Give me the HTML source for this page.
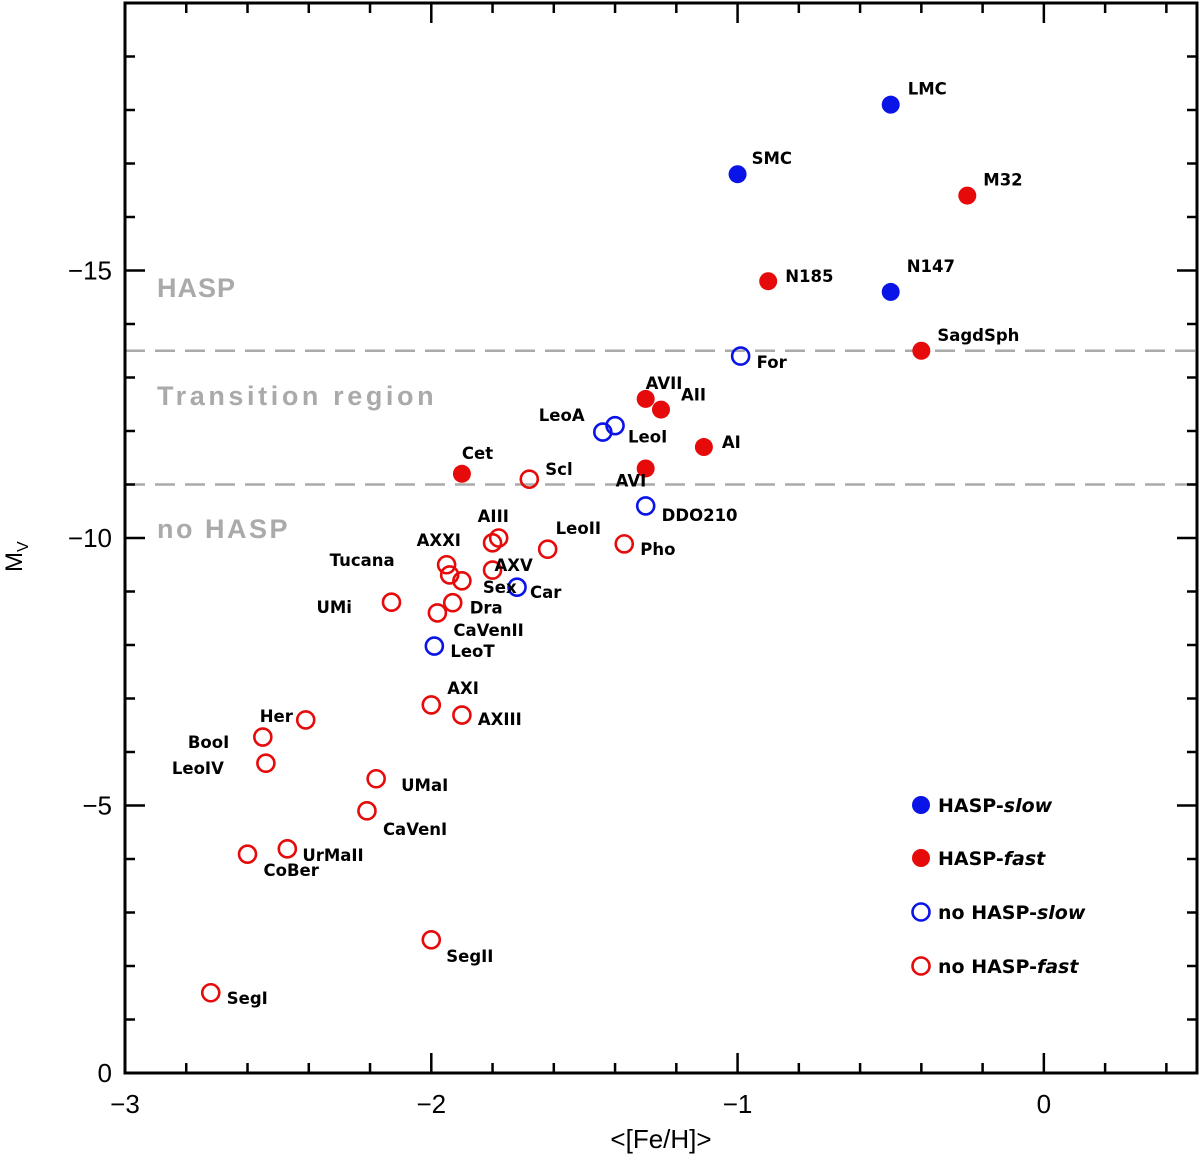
<!DOCTYPE html>
<html><head><meta charset="utf-8"><style>
body{margin:0;background:#fff}
svg text{font-family:"Liberation Sans",sans-serif}
svg text.pl{font-family:"DejaVu Sans","Liberation Sans",sans-serif}
</style></head><body>
<svg id="chart" width="1200" height="1160" xmlns="http://www.w3.org/2000/svg">
<g id="frame"></g><g id="marks"></g>
</svg>
<script>
const names=["LMC","SMC","M32","N185","N147","SagdSph","AVII","AII","AI","Cet","AVI","For","LeoA","LeoI","DDO210","Car","LeoT","Scl","AIII","AIII-b","AXXI","Tucana","Sex","AXV","UMi","Dra","CaVenII","LeoII","Pho","AXI","AXIII","Her","BooI","LeoIV","UMaI","CaVenI","UrMaII","CoBer","SegII","SegI"];
const feh=[-0.5,-1.0,-0.25,-0.90,-0.5,-0.40,-1.30,-1.25,-1.11,-1.90,-1.30,-0.99,-1.44,-1.40,-1.30,-1.72,-1.99,-1.68,-1.78,-1.80,-1.95,-1.94,-1.90,-1.80,-2.13,-1.93,-1.98,-1.62,-1.37,-2.0,-1.90,-2.41,-2.55,-2.54,-2.18,-2.21,-2.47,-2.60,-2.0,-2.72];
const mv=[-18.1,-16.8,-16.4,-14.8,-14.6,-13.5,-12.6,-12.4,-11.7,-11.2,-11.3,-13.4,-11.98,-12.1,-10.6,-9.08,-7.98,-11.1,-10.0,-9.91,-9.50,-9.31,-9.20,-9.40,-8.80,-8.79,-8.60,-9.79,-9.89,-6.88,-6.69,-6.60,-6.28,-5.79,-5.50,-4.90,-4.19,-4.09,-2.49,-1.50];
const group=["bs","bs","rf","rf","bs","rf","rf","rf","rf","rf","rf","bo","bo","bo","bo","bo","bo","ro","ro","ro","ro","ro","ro","ro","ro","ro","ro","ro","ro","ro","ro","ro","ro","ro","ro","ro","ro","ro","ro","ro"];
const labels=["LMC","SMC","M32","N185","N147","SagdSph","AVII","AII","AI","Cet","AVI","For","LeoA","LeoI","DDO210","Car","LeoT","Scl","AIII","","AXXI","Tucana","Sex","AXV","UMi","Dra","CaVenII","LeoII","Pho","AXI","AXIII","Her","BooI","LeoIV","UMaI","CaVenI","UrMaII","CoBer","SegII","SegI"];
const ldx=[17,14,16,17,16,16,0,20,18,0,-30,16,-64,13,16,13,16,16,-21,0,-30,-120,21,2,-75,17,16,8,16,16,16,-46,-75,-94,25,16,15,16,15,16];
const ldy=[-16,-16,-16,-5,-26,-16,-16,-15,-5,-21,12,6,-17,11,9,5,5,-10,-22,0,-25,-15,6,-5,5,5,17,-21,5,-17,4,-4,5,5,6,18,6,16,16,5];
const xTicks=[-3,-2,-1,0];
const yTicks=[0,-5,-10,-15];
const hLines=[-13.5,-11];
const x0=125,x1=1197,y0=1073,y1=3;
const X=v=>x0+(v+3)/3.5*(x1-x0);
const Y=v=>y0+(v/-20)*(y1-y0);
const NS="http://www.w3.org/2000/svg";
function mk(par,tag,at,txt){const e=document.createElementNS(NS,tag);for(const k in at)e.setAttribute(k,at[k]);if(txt!==undefined)e.textContent=txt;document.getElementById(par).appendChild(e);return e;}
hLines.forEach((h,i)=>{const e=mk("frame","line",{x1:x0,x2:x1,y1:Y(h),y2:Y(h),stroke:"#aaa","stroke-width":2.5,"stroke-dasharray":"20 10"});

});
[["HASP",297,1],["Transition region",405,3.6],["no HASP",538,2.5]].forEach(r=>{const e=mk("frame","text",{x:157,y:r[1],"font-size":27,fill:"#aaa","font-weight":"bold","letter-spacing":r[2]},r[0]);

});
const fr=mk("frame","rect",{x:x0,y:y1,width:x1-x0,height:y0-y1,fill:"none",stroke:"#000","stroke-width":3});


for(let i=0;i<=17;i++){const v=-3+i*0.2;const px=X(v);const maj=Math.abs(v-Math.round(v))<1e-6;const L=maj?20:10;
mk("frame","line",{x1:px,x2:px,y1:y0,y2:y0-L,stroke:"#000","stroke-width":2.5});
mk("frame","line",{x1:px,x2:px,y1:y1,y2:y1+L,stroke:"#000","stroke-width":2.5});}
for(let v=0;v>=-20;v--){const py=Y(v);const L=(v%5===0)?20:10;
mk("frame","line",{x1:x0,x2:x0+L,y1:py,y2:py,stroke:"#000","stroke-width":2.5});
mk("frame","line",{x1:x1,x2:x1-L,y1:py,y2:py,stroke:"#000","stroke-width":2.5});}
xTicks.forEach(v=>{const e=mk("frame","text",{x:X(v),y:1113,"font-size":26,"text-anchor":"middle"},v<0?"\u2212"+(-v):""+v);

});
yTicks.forEach(v=>{const e=mk("frame","text",{x:112,y:Y(v)+9,"font-size":26,"text-anchor":"end"},v<0?"\u2212"+(-v):""+v);

});
const xt=mk("frame","text",{x:661,y:1148,"font-size":26,"text-anchor":"middle"},"<[Fe/H]>");


const yt=mk("frame","text",{x:0,y:0,"font-size":24,transform:"translate(22,572) rotate(-90)"},"M");


const ys=mk("frame","tspan",{dy:6,"font-size":16},"V");yt.appendChild(ys);
const col={bs:"#0a14e6",bo:"#0a14e6",rf:"#e60a0a",ro:"#e60a0a"};
names.forEach((n,i)=>{const g=group[i];const filled=g==="bs"||g==="rf";
const c=mk("marks","circle",{cx:X(feh[i]),cy:Y(mv[i]),r:filled?9:8.5,fill:filled?col[g]:"none",stroke:col[g],"stroke-width":filled?0:2.6});


if(labels[i]){const t=mk("marks","text",{x:X(feh[i])+ldx[i],y:Y(mv[i])+ldy[i]+6,"font-size":16.5,"font-weight":"bold","class":"pl"},labels[i]);

}});
[["bs","HASP-","slow",805],["rf","HASP-","fast",858],["bo","no HASP-","slow",912],["ro","no HASP-","fast",966]].forEach(l=>{const filled=l[0]==="bs"||l[0]==="rf";
const c=mk("marks","circle",{cx:921,cy:l[3],r:filled?9:8.5,fill:filled?col[l[0]]:"none",stroke:col[l[0]],"stroke-width":filled?0:2.6});


const t=mk("marks","text",{x:938,y:l[3]+7,"font-size":19,"font-weight":"bold","class":"pl"},l[1]);


const s=mk("marks","tspan",{"font-style":"italic"},l[2]);t.appendChild(s);});
</script>
</body></html>
